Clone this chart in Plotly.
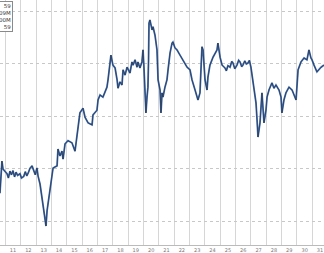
import plotly.graph_objects as go

# time in days (fractional), price values
days = [10.15, 10.28, 10.35, 10.61, 10.7, 10.8, 10.9, 11.0, 11.1, 11.2, 11.3, 11.46, 11.55, 11.7, 11.8, 11.9, 12.0,
        12.1, 12.24, 12.30, 12.45, 12.56, 12.63, 12.76, 12.95,
        13.08, 13.15, 13.22, 13.28, 13.41, 13.54, 13.61, 13.87, 13.93, 14.06, 14.19, 14.26, 14.39, 14.58, 14.84,
        15.04, 15.17, 15.23, 15.36, 15.56, 15.69, 15.89, 16.15, 16.21, 16.47, 16.54, 16.67, 16.86, 17.12, 17.19,
        17.32, 17.38, 17.51, 17.65, 17.78, 17.84, 17.97, 18.10, 18.17, 18.30, 18.43, 18.62, 18.75, 18.82, 18.95,
        19.08, 19.14, 19.27, 19.40, 19.47, 19.53, 19.60, 19.66, 19.73, 19.79, 19.83, 19.86, 19.92, 20.06, 20.12,
        20.25, 20.38, 20.41, 20.45, 20.58, 20.64, 20.71, 20.77, 20.90, 21.03, 21.10, 21.23, 21.36, 21.42, 21.55,
        21.68, 21.88, 22.07, 22.34, 22.53, 22.66, 22.86, 23.05, 23.18, 23.25, 23.31, 23.38, 23.51, 23.64, 23.70,
        23.83, 24.03, 24.29, 24.35, 24.49, 24.62, 24.81, 24.9, 25.0, 25.14, 25.25, 25.33, 25.45, 25.59, 25.7,
        25.79, 25.9, 25.98, 26.1, 26.2, 26.31, 26.4, 26.50, 26.63,
        26.70, 26.83, 26.90, 26.96, 27.09, 27.16, 27.22, 27.35, 27.48, 27.55, 27.68, 27.87, 28.00, 28.13, 28.33,
        28.46, 28.52, 28.65, 28.78, 28.98, 29.18, 29.44, 29.50, 29.57, 29.76, 29.96, 30.15, 30.28, 30.41, 30.48,
        30.61, 30.80, 31.07, 31.26]
price = [125.3, 131.4, 129.9, 129.0, 128.2, 129.5, 128.8, 129.6, 128.4, 129.3, 128.7, 129.0, 128.2, 128.5, 129.4,
         128.6, 129.2, 130.0, 130.5, 129.9, 128.8, 130.1, 128.6, 127.05, 123.4,
         120.9, 119.05, 122.0, 123.4, 125.3, 128.6, 130.1, 130.5, 133.7, 132.4, 133.3, 131.8, 134.7, 135.3, 134.9,
         133.3, 136.2, 138.1, 140.6, 141.5, 139.8, 138.7, 138.3, 140.2, 141.1, 143.05, 144.0, 143.6, 145.5, 146.9,
         150.1, 151.6, 149.7, 149.15, 146.9, 145.3, 146.5, 145.9, 148.8, 147.8, 149.3, 148.2, 150.3, 149.7, 150.7,
         149.3, 150.3, 149.15, 150.3, 152.6, 149.3, 142.5, 140.6, 143.6, 145.5, 150.7, 157.7, 158.3, 156.4, 157.0,
         155.4, 152.6, 149.3, 146.9, 144.95, 140.6, 144.4, 143.6, 145.5, 146.9, 148.8, 152.0, 153.9, 154.1, 153.0,
         152.6, 151.6, 150.7, 149.3, 148.8, 146.9, 144.95, 143.05, 144.4, 150.1, 153.2, 152.6, 146.9, 144.95, 147.4,
         149.7, 151.2, 152.6, 153.9, 151.2, 149.7, 149.15, 148.6, 149.6, 149.3, 150.4, 150.1, 149.0, 149.7, 150.6,
         150.3, 149.4, 149.7, 150.5, 149.9, 150.1, 150.6, 149.3, 146.3,
         144.4, 142.5, 139.2, 136.0, 138.7, 143.05, 144.4, 138.7, 141.1, 143.6, 145.0, 146.3, 145.3, 145.9, 144.95,
         143.6, 140.6, 143.05, 144.4, 145.5, 144.95, 143.05, 146.3, 148.8, 150.3, 151.05, 150.7, 152.6, 151.05, 150.7,
         149.7, 148.4, 149.3, 149.7]

tick_days = list(range(11, 32))
tick_labels = [str(d) for d in tick_days]
legend_lines = ["59", "09M", "00M", "59"]

fig = go.Figure()
fig.add_trace(go.Scatter(x=days, y=price, mode="lines",
                         line=dict(color="#4673b8", width=1.8), showlegend=False))
fig.add_trace(go.Scatter(x=days, y=price, mode="lines",
                         line=dict(color="#1b1b1b", width=0.7), opacity=0.75, showlegend=False))

fig.add_annotation(xref="paper", yref="paper", x=0.041, y=0.995, xanchor="right", yanchor="top",
                   text="<br>".join(legend_lines), align="right", showarrow=False,
                   font=dict(size=5.5, color="#333333", family="DejaVu Sans"),
                   bgcolor="white", bordercolor="#8a8a8a", borderwidth=1, borderpad=1)

fig.update_layout(
    width=324, height=253,
    margin=dict(l=0, r=0, t=0, b=8, pad=0),
    paper_bgcolor="white", plot_bgcolor="white",
    xaxis=dict(range=[10.153, 31.26], tickmode="array", tickvals=tick_days, ticktext=tick_labels,
               showgrid=False, zeroline=False, automargin=False,
               tickfont=dict(size=5, color="#777777", family="DejaVu Sans"),
               showline=True, linecolor="#bbbbbb", linewidth=1, ticks="",
               minor=dict(tick0=10.5, dtick=1, showgrid=True, gridcolor="#d6d6d6", gridwidth=1.3)),
    yaxis=dict(range=[115.43, 162.1], dtick=10, tick0=0, showgrid=True, gridcolor="#c8c8c8",
               griddash="dot", gridwidth=1, zeroline=False, showticklabels=False, automargin=False),
)

fig.write_html("out.html")
